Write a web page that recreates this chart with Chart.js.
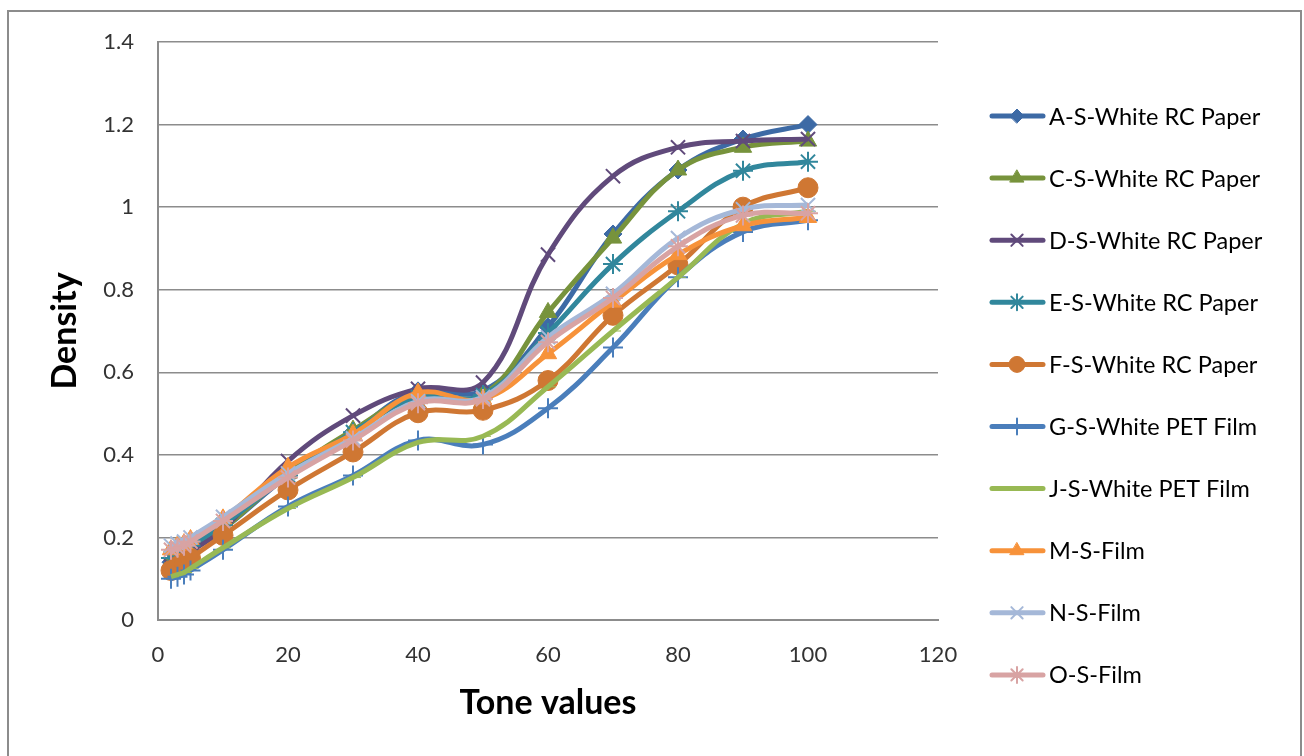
<!DOCTYPE html>
<html>
<head>
<meta charset="utf-8">
<script src="https://cdn.jsdelivr.net/npm/chart.js@4.4.0/dist/chart.umd.min.js"></script>
<style>
  html, body { margin: 0; padding: 0; background: #fff; }
  #wrap { width: 1304px; height: 756px; }
</style>
</head>
<body>
<div id="wrap"><canvas id="densityChart" width="1304" height="756"></canvas></div>
<script>
// tone values (x) and measured densities per sample
const tones = [2, 3, 4, 5, 10, 20, 30, 40, 50, 60, 70, 80, 90, 100];

const seriesA = [0.14, 0.15, 0.16, 0.17, 0.22, 0.35, 0.455, 0.555, 0.555, 0.71, 0.935, 1.09, 1.165, 1.2];
const seriesC = [0.14, 0.15, 0.16, 0.17, 0.22, 0.355, 0.46, 0.545, 0.545, 0.745, 0.925, 1.09, 1.145, 1.16];
const seriesD = [0.13, 0.14, 0.15, 0.165, 0.22, 0.385, 0.495, 0.56, 0.575, 0.885, 1.075, 1.145, 1.16, 1.165];
const seriesE = [0.15, 0.16, 0.17, 0.18, 0.23, 0.35, 0.455, 0.54, 0.545, 0.695, 0.862, 0.99, 1.088, 1.11];
const seriesF = [0.12, 0.13, 0.14, 0.15, 0.205, 0.315, 0.407, 0.502, 0.508, 0.58, 0.738, 0.86, 1.0, 1.047];
const seriesG = [0.1, 0.105, 0.11, 0.12, 0.17, 0.275, 0.35, 0.435, 0.425, 0.513, 0.66, 0.83, 0.94, 0.968];
const seriesJ = [0.105, 0.11, 0.115, 0.125, 0.175, 0.27, 0.345, 0.43, 0.445, 0.565, 0.70, 0.83, 0.96, 0.99];
const seriesM = [0.17, 0.18, 0.185, 0.195, 0.245, 0.37, 0.45, 0.55, 0.535, 0.645, 0.77, 0.885, 0.955, 0.975];
const seriesN = [0.18, 0.185, 0.19, 0.2, 0.25, 0.355, 0.44, 0.53, 0.54, 0.685, 0.79, 0.925, 0.995, 1.005];
const seriesO = [0.17, 0.175, 0.18, 0.19, 0.24, 0.345, 0.435, 0.525, 0.535, 0.673, 0.78, 0.905, 0.98, 0.985];

const seriesNames = [
  'A-S-White RC Paper', 'C-S-White RC Paper', 'D-S-White RC Paper', 'E-S-White RC Paper',
  'F-S-White RC Paper', 'G-S-White PET Film', 'J-S-White PET Film', 'M-S-Film', 'N-S-Film', 'O-S-Film'
];
const seriesValues = [seriesA, seriesC, seriesD, seriesE, seriesF, seriesG, seriesJ, seriesM, seriesN, seriesO];

const yTicks = [0, 0.2, 0.4, 0.6, 0.8, 1, 1.2, 1.4];
const xTicks = [0, 20, 40, 60, 80, 100, 120];

// styling
const colors = ['#3D6AA5', '#77933C', '#604A7B', '#31879C', '#CF7733', '#4A7EBB', '#98B954', '#F7923A', '#A5B8D8', '#D8A3A3'];
const markers = ['rectRot', 'triangle', 'crossRot', 'star', 'circle', 'cross', 'dash', 'triangle', 'crossRot', 'star'];
const markerSizes = [9, 10, 10, 10, 10, 10, 8, 10, 10, 10];
const FONT = 'Lato, "Open Sans", sans-serif';
const GRID = '#8c8c8c';

const datasets = seriesValues.map((vals, i) => {
    const lineMarker = ['crossRot', 'star', 'cross'].includes(markers[i]);
    return {
        label: seriesNames[i],
        data: vals.map((v, k) => ({ x: tones[k], y: v })),
        borderColor: colors[i],
        backgroundColor: colors[i],
        borderWidth: 5,
        tension: 0.4,
        pointStyle: markers[i],
        pointRadius: markerSizes[i],
        pointBorderWidth: lineMarker ? 2 : 1,
        pointBackgroundColor: colors[i],
        pointBorderColor: colors[i],
        order: 10 - i,
        clip: false
    };
});

// outer frame
const framePlugin = {
    id: 'frame',
    beforeDraw(chart) {
        const ctx = chart.ctx;
        ctx.save();
        ctx.strokeStyle = GRID;
        ctx.lineWidth = 2;
        ctx.strokeRect(8, 11, 1293, 760);
        ctx.restore();
    }
};

// Excel-like legend: line with marker, then label
const legendPlugin = {
    id: 'sideLegend',
    afterDraw(chart) {
        const ctx = chart.ctx;
        const x0 = chart.chartArea.right + 54;
        const top = 116, step = 62.1;
        ctx.save();
        chart.data.datasets.forEach((ds, i) => {
            const y = top + i * step;
            ctx.strokeStyle = ds.borderColor;
            ctx.lineWidth = 5;
            ctx.lineCap = 'round';
            ctx.beginPath();
            ctx.moveTo(x0, y);
            ctx.lineTo(x0 + 51, y);
            ctx.stroke();
            ctx.fillStyle = ds.pointBackgroundColor;
            ctx.strokeStyle = ds.pointBorderColor;
            ctx.lineWidth = ds.pointBorderWidth;
            if (ds.pointStyle !== 'dash') {
                Chart.helpers.drawPoint(ctx, {
                    pointStyle: ds.pointStyle, radius: ds.pointRadius - 2,
                    borderWidth: ds.pointBorderWidth, rotation: 0
                }, x0 + 25, y);
            }
            ctx.fillStyle = '#000';
            ctx.font = '23.5px ' + FONT;
            ctx.textAlign = 'left';
            ctx.textBaseline = 'middle';
            ctx.fillText(ds.label, x0 + 57, y + 1);
        });
        ctx.restore();
    }
};

new Chart(document.getElementById('densityChart'), {
    type: 'line',
    data: { datasets },
    plugins: [framePlugin, legendPlugin],
    options: {
        responsive: false,
        animation: false,
        layout: { padding: { left: 10, top: 42, right: 366, bottom: 0 } },
        plugins: { legend: { display: false }, tooltip: { enabled: false } },
        scales: {
            x: {
                type: 'linear',
                min: xTicks[0],
                max: xTicks[xTicks.length - 1],
                afterBuildTicks: s => { s.ticks = xTicks.map(v => ({ value: v })); },
                afterFit: s => { s.height = 136; },
                ticks: { padding: 22, color: '#333', font: { family: FONT, size: 22 } },
                grid: { display: false, drawTicks: false },
                border: { color: GRID, width: 2 },
                title: {
                    display: true, text: 'Tone values', color: '#000',
                    font: { family: FONT, size: 34, weight: 'bold' },
                    padding: { top: 0, bottom: 33 }
                }
            },
            y: {
                min: yTicks[0],
                max: yTicks[yTicks.length - 1],
                afterBuildTicks: s => { s.ticks = yTicks.map(v => ({ value: v })); },
                afterFit: s => { s.width = 148; },
                ticks: {
                    padding: 24, color: '#333', font: { family: FONT, size: 22 },
                    callback: v => String(Math.round(v * 10) / 10)
                },
                grid: { color: GRID, lineWidth: 1.5, drawTicks: false },
                border: { color: GRID, width: 2 },
                title: {
                    display: true, text: 'Density', color: '#000',
                    font: { family: FONT, size: 34, weight: 'bold' },
                    padding: { top: 35, bottom: 0 }
                }
            }
        }
    }
});
</script>
</body>
</html>
